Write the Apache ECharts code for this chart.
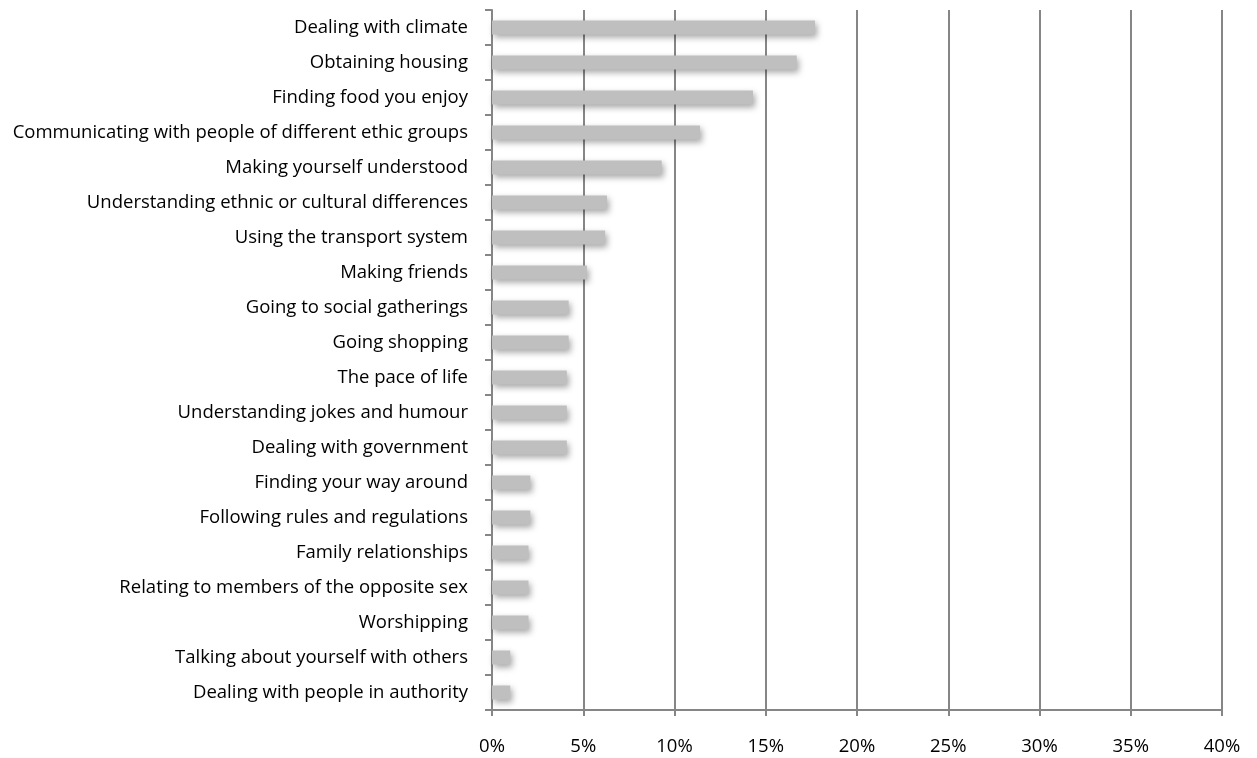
<!DOCTYPE html>
<html>
<head>
<meta charset="utf-8">
<script src="https://cdn.jsdelivr.net/npm/echarts@6/dist/echarts.min.js"></script>
<style>
  html, body { margin: 0; padding: 0; background: #fff; }
  #chart { width: 1257px; height: 758px; }
</style>
</head>
<body>
<div id="chart"></div>
<script>
var categories = [
  'Dealing with climate',
  'Obtaining housing',
  'Finding food you enjoy',
  'Communicating with people of different ethic groups',
  'Making yourself understood',
  'Understanding ethnic or cultural differences',
  'Using the transport system',
  'Making friends',
  'Going to social gatherings',
  'Going shopping',
  'The pace of life',
  'Understanding jokes and humour',
  'Dealing with government',
  'Finding your way around',
  'Following rules and regulations',
  'Family relationships',
  'Relating to members of the opposite sex',
  'Worshipping',
  'Talking about yourself with others',
  'Dealing with people in authority'
];
var values = [17.7, 16.7, 14.3, 11.4, 9.3, 6.3, 6.2, 5.2, 4.2, 4.2, 4.1, 4.1, 4.1, 2.1, 2.1, 2.0, 2.0, 2.0, 1.0, 1.0];
var xTicks = [0, 5, 10, 15, 20, 25, 30, 35, 40];

var chart = echarts.init(document.getElementById('chart'));
var lineColor = '#868686';

var option = {
  animation: false,
  grid: { left: 492, right: 35, top: 10, bottom: 48, containLabel: false },
  xAxis: {
    type: 'value',
    min: xTicks[0],
    max: xTicks[xTicks.length - 1],
    interval: 5,
    axisLine: { show: true, lineStyle: { color: lineColor, width: 2 } },
    axisTick: { show: true, length: 6, lineStyle: { color: lineColor, width: 2 } },
    splitLine: { show: true, lineStyle: { color: lineColor, width: 2 } },
    axisLabel: {
      margin: 27,
      color: '#000',
      fontFamily: 'Open Sans',
      fontSize: 18.5,
      formatter: '{value}%'
    }
  },
  yAxis: {
    type: 'category',
    inverse: true,
    data: categories,
    axisLine: { show: true, lineStyle: { color: lineColor, width: 2 } },
    axisTick: { show: true, length: 7, lineStyle: { color: lineColor, width: 2 } },
    axisLabel: {
      margin: 24,
      color: '#000',
      fontFamily: 'Open Sans',
      fontSize: 18.5
    }
  },
  series: [{
    type: 'bar',
    data: values,
    barWidth: 14,
    itemStyle: {
      color: '#bfbfbf',
      shadowColor: 'rgba(0,0,0,0.35)',
      shadowBlur: 6,
      shadowOffsetX: 2,
      shadowOffsetY: 3
    }
  }]
};
chart.setOption(option);
</script>
</body>
</html>
